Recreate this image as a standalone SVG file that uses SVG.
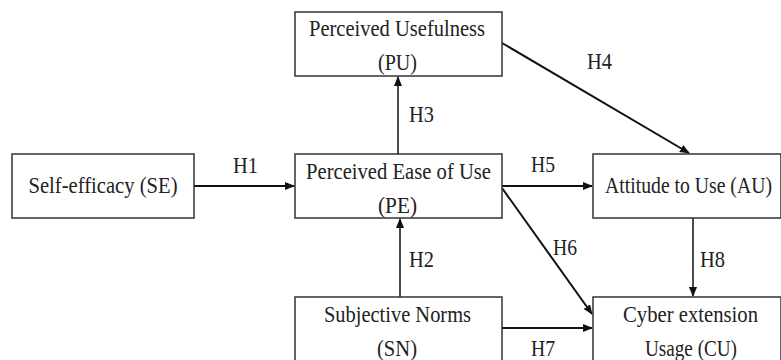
<svg xmlns="http://www.w3.org/2000/svg" width="781" height="360" viewBox="0 0 781 360">
<style>
.box{fill:#fff;stroke:#333;stroke-width:1.5}
.t{font-family:"Liberation Serif","Times New Roman",serif;font-size:23px;fill:#222;text-anchor:middle}
.l{font-family:"Liberation Serif","Times New Roman",serif;font-size:23px;fill:#222}
.c{stroke:#111;stroke-width:2;fill:none;marker-end:url(#ah)}
.c2{stroke:#111;stroke-width:1.5;fill:none;marker-end:url(#ah)}
</style>
<defs>
<marker id="ah" markerUnits="userSpaceOnUse" markerWidth="10" markerHeight="8" refX="9" refY="4" orient="auto">
<path d="M0,0 L10,4 L0,8 z" fill="#111"/>
</marker>
</defs>
<rect width="781" height="360" fill="#fff"/>
<g id="connectors">
<line class="c" x1="194" y1="186" x2="294" y2="186"/>
<line class="c2" x1="398" y1="154" x2="398" y2="77"/>
<line class="c2" x1="400" y1="297" x2="400" y2="219"/>
<line class="c" x1="502" y1="186" x2="592" y2="186"/>
<line class="c" x1="502" y1="43" x2="689" y2="153"/>
<line class="c" x1="502" y1="188" x2="592" y2="314"/>
<line class="c" x1="502" y1="328" x2="592" y2="328"/>
<line class="c2" x1="693" y1="218" x2="693" y2="296"/>
<text class="l" x="233" y="173" textLength="25" lengthAdjust="spacingAndGlyphs">H1</text>
<text class="l" x="409" y="122" textLength="25" lengthAdjust="spacingAndGlyphs">H3</text>
<text class="l" x="409" y="267" textLength="25" lengthAdjust="spacingAndGlyphs">H2</text>
<text class="l" x="531" y="172" textLength="24" lengthAdjust="spacingAndGlyphs">H5</text>
<text class="l" x="587" y="69" textLength="25" lengthAdjust="spacingAndGlyphs">H4</text>
<text class="l" x="553" y="255" textLength="24" lengthAdjust="spacingAndGlyphs">H6</text>
<text class="l" x="531" y="356" textLength="24" lengthAdjust="spacingAndGlyphs">H7</text>
<text class="l" x="700" y="267" textLength="25" lengthAdjust="spacingAndGlyphs">H8</text>
</g>
<g id="SE">
<rect class="box" x="12" y="154" width="182" height="64"/>
<text class="t" x="103" y="193" textLength="149" lengthAdjust="spacingAndGlyphs">Self-efficacy (SE)</text>
</g>
<g id="PU">
<rect class="box" x="295" y="12" width="207" height="64"/>
<text class="t" x="397" y="36" textLength="176" lengthAdjust="spacingAndGlyphs">Perceived Usefulness</text>
<text class="t" x="397.5" y="70" textLength="39" lengthAdjust="spacingAndGlyphs">(PU)</text>
</g>
<g id="PE">
<rect class="box" x="295" y="154" width="207" height="64"/>
<text class="t" x="398.5" y="179" textLength="185" lengthAdjust="spacingAndGlyphs">Perceived Ease of Use</text>
<text class="t" x="397.5" y="213" textLength="39" lengthAdjust="spacingAndGlyphs">(PE)</text>
</g>
<g id="SN">
<rect class="box" x="295" y="297" width="207" height="70"/>
<text class="t" x="397.5" y="322" textLength="147" lengthAdjust="spacingAndGlyphs">Subjective Norms</text>
<text class="t" x="397" y="356" textLength="40" lengthAdjust="spacingAndGlyphs">(SN)</text>
</g>
<g id="AU">
<rect class="box" x="593" y="154" width="188" height="64"/>
<text class="t" transform="translate(688.5,193) scale(0.857,1)" x="0" y="0">Attitude to Use (AU)</text>
</g>
<g id="CU">
<rect class="box" x="593" y="297" width="188" height="70"/>
<text class="t" x="690.5" y="322" textLength="135" lengthAdjust="spacingAndGlyphs">Cyber extension</text>
<text class="t" x="691" y="356" textLength="92" lengthAdjust="spacingAndGlyphs">Usage (CU)</text>
</g>
</svg>
